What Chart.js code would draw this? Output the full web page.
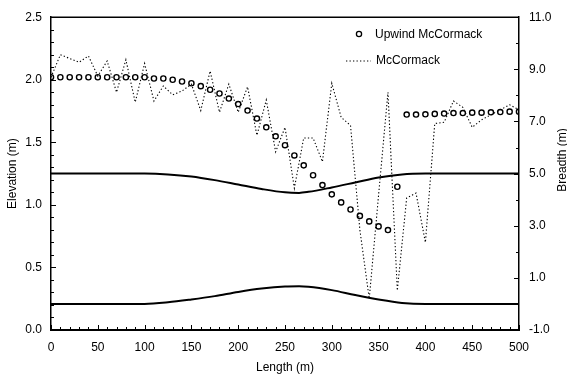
<!DOCTYPE html>
<html>
<head>
<meta charset="utf-8">
<script src="https://cdn.jsdelivr.net/npm/chart.js@4.4.1/dist/chart.umd.min.js"></script>
<style>
html,body{margin:0;padding:0;background:#fff;}
canvas{display:block;}
</style>
</head>
<body>
<canvas id="c" width="567" height="379"></canvas>
<script>
// ---- data ----
const lengths = [0,10,20,30,40,50,60,70,80,90,100,110,120,130,140,150,160,170,180,190,200,
  210,220,230,240,250,260,270,280,290,300,310,320,330,340,350,360,370,380,390,400,
  410,420,430,440,450,460,470,480,490,500];
const upwindElev = [2.02,2.02,2.02,2.02,2.02,2.02,2.02,2.02,2.02,2.02,2.02,
  2.01,2.01,2.00,1.986,1.972,1.949,1.92,1.89,1.85,1.806,
  1.754,1.69,1.62,1.548,1.477,1.395,1.316,1.237,1.158,1.084,
  1.02,0.963,0.912,0.868,0.828,0.799,1.145,1.722,1.722,1.724,
  1.727,1.73,1.734,1.734,1.737,1.737,1.74,1.742,1.745,1.745];
const mccormackElev = [2.02,2.20,2.17,2.14,2.19,2.03,2.15,1.90,2.16,1.82,2.13,
  1.83,1.95,1.88,1.91,1.965,1.754,2.07,1.74,1.965,1.74,
  1.944,1.556,1.838,1.424,1.62,1.134,1.535,1.535,1.345,1.972,
  1.70,1.635,0.80,0.25,1.08,1.90,0.316,1.055,1.094,0.70,
  1.65,1.66,1.83,1.78,1.62,1.68,1.72,1.76,1.80,1.76];
const bankLengths = [0,100,125,150,175,200,225,250,265,275,300,325,350,375,400,500];
const upperBreadth = [5.0,5.0,4.97,4.89,4.75,4.58,4.41,4.28,4.26,4.30,4.47,4.66,4.85,4.97,5.0,5.0];
const lowerBreadth = [0,0,0.06,0.17,0.30,0.46,0.59,0.67,0.68,0.66,0.53,0.34,0.17,0.04,0,0];
const seriesNames = ['Upwind McCormack','McCormack'];
const xTitle = 'Length (m)';
const yTitle = 'Elevation (m)';
const y2Title = 'Breadth (m)';

const pts = (xs, ys) => xs.map((v,i)=>({x:v,y:ys[i]}));
const FONT = 'Liberation Sans, Arial, sans-serif';
const DOT = [1.3,2.2];

const decor = {
  id:'decor',
  afterDraw(chart){
    const ctx = chart.ctx, ca = chart.chartArea;
    const sx = chart.scales.x, sy = chart.scales.y, sy2 = chart.scales.y2;
    ctx.save();
    ctx.strokeStyle = '#000';
    ctx.lineWidth = 1;
    const seg=(a,b,c,d)=>{ctx.beginPath();ctx.moveTo(a,b);ctx.lineTo(c,d);ctx.stroke();};
    for(let v=0; v<=500; v+=10){
      const px = Math.round(sx.getPixelForValue(v))+0.5;
      seg(px, ca.bottom, px, ca.bottom-(v%50===0?5:3));
    }
    for(let i=0;i<=25;i++){
      const py = Math.round(sy.getPixelForValue(i/10))+0.5;
      seg(ca.left, py, ca.left+(i%5===0?5:3), py);
    }
    for(let v=-1; v<=11; v++){
      const py = Math.round(sy2.getPixelForValue(v))+0.5;
      seg(ca.right, py, ca.right-((v+1)%2===0?5:3), py);
    }
    // top frame
    ctx.lineWidth = 1.5;
    seg(ca.left, ca.top, ca.right, ca.top);
    // legend
    ctx.fillStyle = '#000';
    ctx.font = '12px ' + FONT;
    ctx.textBaseline = 'middle';
    ctx.textAlign = 'left';
    ctx.lineWidth = 1.3;
    ctx.beginPath(); ctx.arc(359, 34, 2.6, 0, Math.PI*2); ctx.stroke();
    ctx.fillText(seriesNames[0], 375, 35);
    ctx.lineWidth = 1.1;
    ctx.setLineDash(DOT);
    seg(346, 61, 371, 61);
    ctx.setLineDash([]);
    ctx.fillText(seriesNames[1], 376, 61);
    // right axis title (reads bottom to top)
    ctx.translate(563, 160);
    ctx.rotate(-Math.PI/2);
    ctx.textAlign = 'center';
    ctx.fillText(y2Title, 0, 0);
    ctx.restore();
  }
};

new Chart(document.getElementById('c'), {
  type:'line',
  data:{
    datasets:[
      {label:seriesNames[0], data:pts(lengths, upwindElev), yAxisID:'y', showLine:false,
        pointRadius:2.6, pointBorderWidth:1.4, pointBorderColor:'#000', pointBackgroundColor:'rgba(0,0,0,0)', pointStyle:'circle'},
      {label:seriesNames[1], data:pts(lengths, mccormackElev), yAxisID:'y', borderColor:'#000', borderWidth:1.1,
        borderDash:DOT, pointRadius:0, tension:0, fill:false},
      {label:'upper bank', data:pts(bankLengths, upperBreadth), yAxisID:'y2', borderColor:'#000', borderWidth:2,
        pointRadius:0, cubicInterpolationMode:'monotone', fill:false},
      {label:'lower bank', data:pts(bankLengths, lowerBreadth), yAxisID:'y2', borderColor:'#000', borderWidth:2,
        pointRadius:0, cubicInterpolationMode:'monotone', fill:false}
    ]
  },
  plugins:[decor],
  options:{
    responsive:false, animation:false, devicePixelRatio:1,
    layout:{padding:{top:14,left:0,right:0,bottom:0}},
    plugins:{legend:{display:false}, tooltip:{enabled:false}},
    scales:{
      x:{type:'linear', min:0, max:500,
        afterFit(s){s.height=49;},
        ticks:{stepSize:50, color:'#000', font:{family:FONT,size:12}, padding:10, maxRotation:0},
        grid:{display:true, drawOnChartArea:false, drawTicks:false},
        border:{display:true, color:'#000', width:2},
        title:{display:true, text:xTitle, color:'#000', font:{family:FONT,size:12}, padding:{top:0,bottom:4}}
      },
      y:{type:'linear', position:'left', min:0, max:2.5,
        afterFit(s){s.width=51;},
        ticks:{stepSize:0.5, color:'#000', font:{family:FONT,size:12}, padding:9, callback:v=>Number(v).toFixed(1)},
        grid:{display:true, drawOnChartArea:false, drawTicks:false},
        border:{display:true, color:'#000', width:1.5},
        title:{display:true, text:yTitle, color:'#000', font:{family:FONT,size:12}, padding:{top:5,bottom:0}}
      },
      y2:{type:'linear', position:'right', min:-1, max:11,
        afterFit(s){s.width=48;},
        ticks:{stepSize:2, color:'#000', font:{family:FONT,size:12}, padding:10, callback:v=>Number(v).toFixed(1)},
        grid:{display:true, drawOnChartArea:false, drawTicks:false},
        border:{display:true, color:'#000', width:1.5},
        title:{display:false}
      }
    }
  }
});
</script>
</body>
</html>
